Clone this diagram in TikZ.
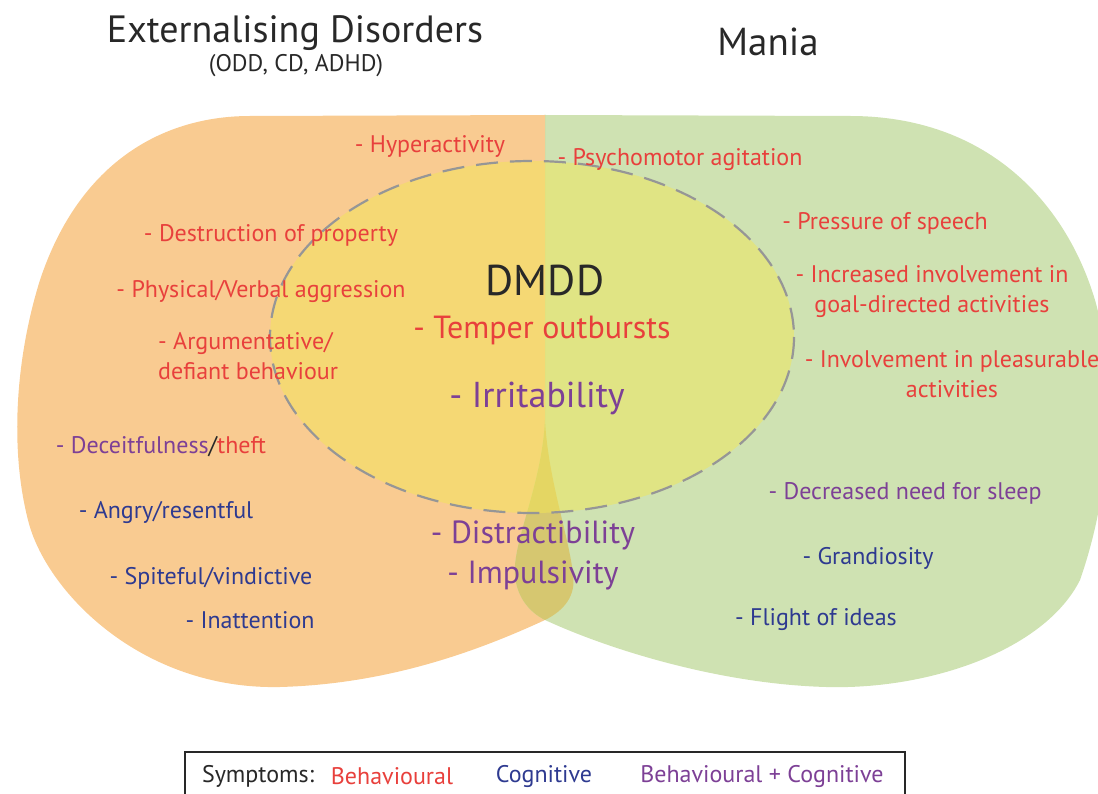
\documentclass[tikz,border=0pt]{standalone}
\usepackage{fontspec}
\setmainfont{PT Sans}
\definecolor{behred}{RGB}{232,64,60}
\definecolor{cogblue}{RGB}{46,58,144}
\definecolor{bothpurple}{RGB}{125,64,150}
\definecolor{inkgray}{RGB}{40,40,40}
\definecolor{extfill}{RGB}{249,203,145}
\definecolor{manfill}{RGB}{207,226,178}
\definecolor{overlapfill}{RGB}{214,199,112}
\definecolor{dmddfill}{RGB}{242,230,88}
\definecolor{dashgray}{RGB}{150,150,150}
\begin{document}
\begin{tikzpicture}[x=1pt,y=-1pt,
  lbl/.style={inner sep=0pt, font=\fontsize{24}{30}\selectfont},
  beh/.style={lbl, text=behred},
  cog/.style={lbl, text=cogblue},
  both/.style={lbl, text=bothpurple},
  bigtxt/.style={font=\fontsize{32}{38}\selectfont},
  title/.style={inner sep=0pt, text=inkgray, font=\fontsize{38}{44}\selectfont}]
\useasboundingbox (0,0) rectangle (1098,794);
\clip (0,0) rectangle (1098,794);

% outlines of the two disorder regions
\def\extpath{(545,115) -- (250,116)
  .. controls (165,116) and (80,160) .. (40,280)
  .. controls (15,360) and (10,450) .. (28,520)
  .. controls (45,590) and (140,690) .. (280,687)
  .. controls (390,684) and (480,650) .. (545,620)
  .. controls (565,610) and (576,595) .. (573,575)
  .. controls (570,540) and (548,480) .. (545,420) -- cycle}
\def\manpath{(545,115) -- (850,116)
  .. controls (985,116) and (1065,200) .. (1095,300)
  .. controls (1115,370) and (1115,480) .. (1080,580)
  .. controls (1045,650) and (930,690) .. (826,687)
  .. controls (720,684) and (610,650) .. (545,620)
  .. controls (525,610) and (513,590) .. (515,565)
  .. controls (518,530) and (542,480) .. (545,420) -- cycle}

\fill[extfill] \extpath;
\fill[manfill] \manpath;
\begin{scope}
  \clip \extpath;
  \fill[overlapfill] \manpath;
\end{scope}

% DMDD region
\fill[dmddfill, opacity=0.5] (532,337) ellipse [x radius=262, y radius=176];
\draw[dashgray, line width=2.2pt, dash pattern=on 22pt off 12pt] (532,337) ellipse [x radius=262, y radius=176];

% headings
\node[title] (ext) at (295,33) {Externalising Disorders};
\node[lbl, text=inkgray] (extsub) at (296,66) {(ODD, CD, ADHD)};
\node[title, font=\fontsize{39}{44}\selectfont] (mania) at (768,42) {Mania};
\node[title, font=\fontsize{43}{48}\selectfont] (dmdd) at (545,280) {DMDD};

% symptoms
\node[beh] (hyper) at (430,146) {- Hyperactivity};
\node[beh] (psycho) at (680,160) {- Psychomotor agitation};
\node[beh] (destr) at (271,235) {- Destruction of property};
\node[beh] (press) at (885,223) {- Pressure of speech};
\node[beh] (phys) at (261,292) {- Physical/Verbal aggression};
\node[beh, align=center] (goal) at (932,292) {- Increased involvement in\\goal-directed activities};
\node[beh, bigtxt] (temper) at (542,331) {- Temper outbursts};
\node[beh, align=left, anchor=west] (argu) at (158,356) {- Argumentative/\\defiant behaviour};
\node[beh, align=center] (pleas) at (952,374) {- Involvement in pleasurable\\activities};
\node[both, font=\fontsize{36}{42}\selectfont] (irrit) at (537,398) {- Irritability};
\node[both] (deceit) at (161,447) {- Deceitfulness\textcolor{inkgray}{/}\textcolor{behred}{theft}};
\node[both] (sleep) at (905,493) {- Decreased need for sleep};
\node[cog] (angry) at (166,512) {- Angry/resentful};
\node[both, bigtxt] (distr) at (533,535) {- Distractibility};
\node[cog] (grand) at (868,558) {- Grandiosity};
\node[cog] (spite) at (211,578) {- Spiteful/vindictive};
\node[both, bigtxt] (impul) at (533,575) {- Impulsivity};
\node[cog] (inatt) at (250,620) {- Inattention};
\node[cog] (flight) at (816,620) {- Flight of ideas};

% legend
\draw[inkgray, line width=1.6pt] (185,752) rectangle (905,810);
\node[lbl, text=inkgray] (legsym) at (258,776) {Symptoms:};
\node[beh] (legbeh) at (392,776) {Behavioural};
\node[cog] (legcog) at (544,776) {Cognitive};
\node[both] (legboth) at (762,776) {Behavioural + Cognitive};
\end{tikzpicture}
\end{document}
